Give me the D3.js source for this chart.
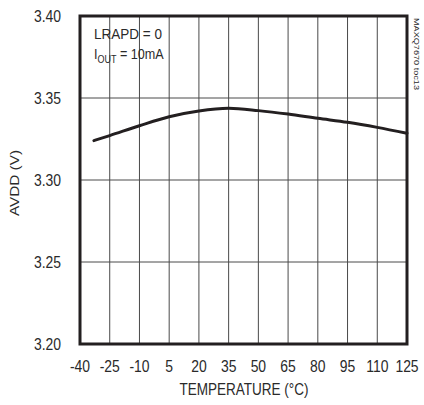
<!DOCTYPE html>
<html><head><meta charset="utf-8">
<script src="https://cdn.jsdelivr.net/npm/d3@7"></script>
<style>
body{margin:0;background:#fff;}
text{font-family:"Liberation Sans",Arial,sans-serif;fill:#2a2a2a;}
</style></head>
<body><svg id="c" width="424" height="405"></svg>
<script>
const temps = [-33, -25, -10, 5, 20, 35, 50, 65, 80, 95, 110, 125];
const avdd = [3.3240, 3.3271, 3.3331, 3.3386, 3.3421, 3.3437, 3.3423, 3.3402, 3.3376, 3.3352, 3.3321, 3.3285];
const xTicks = [-40, -25, -10, 5, 20, 35, 50, 65, 80, 95, 110, 125];
const yTicks = [3.20, 3.25, 3.30, 3.35, 3.40];

const L = 80, R = 407, T = 16, B = 344;
const svg = d3.select("#c");
const x = d3.scaleLinear().domain([-40, 125]).range([L, R]);
const y = d3.scaleLinear().domain([3.20, 3.40]).range([B, T]);

// grid
svg.append("g").selectAll("line").data(xTicks.slice(1, -1)).join("line")
  .attr("x1", d => x(d)).attr("x2", d => x(d)).attr("y1", T).attr("y2", B)
  .attr("stroke", "#4a4a4a").attr("stroke-width", 1);
svg.append("g").selectAll("line").data(yTicks.slice(1, -1)).join("line")
  .attr("y1", d => y(d)).attr("y2", d => y(d)).attr("x1", L).attr("x2", R)
  .attr("stroke", "#4a4a4a").attr("stroke-width", 1);

// curve
svg.append("path").datum(temps.map((t, i) => [t, avdd[i]]))
  .attr("d", d3.line().x(d => x(d[0])).y(d => y(d[1])).curve(d3.curveMonotoneX))
  .attr("fill", "none").attr("stroke", "#231f20").attr("stroke-width", 3).attr("stroke-linecap", "round");

// frame
svg.append("rect").attr("x", L).attr("y", T).attr("width", R - L).attr("height", B - T)
  .attr("fill", "none").attr("stroke", "#231f20").attr("stroke-width", 3);

// axes labels (condensed via scaleX)
const fs = 16, sx = 0.87;
svg.append("g").selectAll("text").data(yTicks).join("text")
  .attr("transform", d => `translate(61,${y(d) + 5.8}) scale(${sx},1)`).attr("text-anchor", "end")
  .attr("font-size", fs).text(d => d.toFixed(2));
svg.append("g").selectAll("text").data(xTicks).join("text")
  .attr("transform", d => `translate(${x(d)},372) scale(${sx},1)`).attr("text-anchor", "middle")
  .attr("font-size", fs).text(d => d);
svg.append("text").attr("x", 244).attr("y", 395).attr("text-anchor", "middle")
  .attr("font-size", 16).attr("textLength", 129).attr("lengthAdjust", "spacingAndGlyphs")
  .text("TEMPERATURE (°C)");
svg.append("text").attr("transform", "translate(18.5,183) rotate(-90)").attr("text-anchor", "middle")
  .attr("font-size", 13.5).attr("textLength", 66).attr("lengthAdjust", "spacingAndGlyphs").text("AVDD (V)");

// annotation
svg.append("text").attr("x", 94).attr("y", 39).attr("font-size", 14)
  .attr("textLength", 68).attr("lengthAdjust", "spacingAndGlyphs").text("LRAPD = 0");
const t2 = svg.append("text").attr("transform", "translate(94,59) scale(0.9,1)").attr("font-size", 14);
t2.append("tspan").text("I");
t2.append("tspan").attr("dy", 3.5).attr("font-size", 10).text("OUT");
t2.append("tspan").attr("dy", -3.5).text(" = 10mA");

svg.append("text").attr("transform", "translate(413.5,54) rotate(90)").attr("text-anchor", "middle")
  .attr("font-size", 7.5).attr("textLength", 72).attr("lengthAdjust", "spacingAndGlyphs").text("MAXQ7670 toc13");
</script></body></html>
